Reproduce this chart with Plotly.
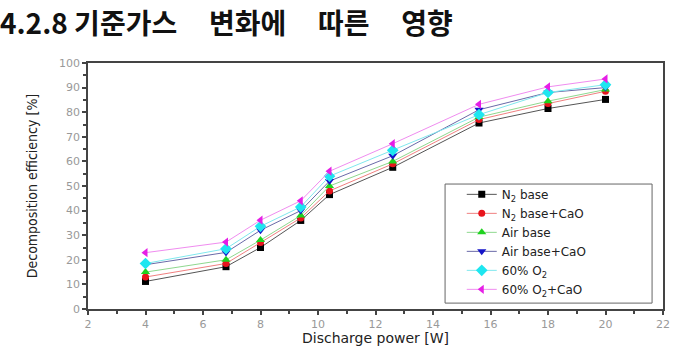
import plotly.graph_objects as go

power = [4, 6.8, 8, 9.4, 10.4, 12.6, 15.6, 18, 20]
n2_base = [11.2, 17.2, 25, 36, 46.5, 57.6, 75.6, 81.5, 85.2]
n2_base_cao = [13, 18.5, 27, 37, 48, 59, 77, 83.5, 88.5]
air_base = [15, 20, 28, 38, 50, 60, 78, 84.5, 89.2]
air_base_cao = [18, 23, 32, 40, 52, 62.3, 81, 88, 90]
o2_60 = [18.5, 24.5, 33.6, 41.5, 54, 64.5, 79, 88, 91.2]
o2_60_cao = [22.9, 27.2, 36.1, 44, 56, 67.2, 83.2, 90.3, 93.5]

series = [
    ("N<sub>2</sub> base", n2_base, "#000000", "#555555", "square", 7),
    ("N<sub>2</sub> base+CaO", n2_base_cao, "#e8141c", "#f08080", "circle", 7),
    ("Air base", air_base, "#1fd21f", "#8fd88f", "triangle-up", 8),
    ("Air base+CaO", air_base_cao, "#1414c8", "#6a6aa8", "triangle-down", 8),
    ("60% O<sub>2</sub>", o2_60, "#1ee6f0", "#80e8ee", "diamond", 9),
    ("60% O<sub>2</sub>+CaO", o2_60_cao, "#e61ee6", "#f08cf0", "triangle-left", 8),
]

fig = go.Figure()
for name, ys, mc, lc, sym, sz in series:
    fig.add_trace(go.Scatter(
        x=power, y=ys, name=name, mode="lines+markers",
        line=dict(color=lc, width=1),
        marker=dict(symbol=sym, size=sz, color=mc, line=dict(width=0)),
    ))

tick_font = dict(family="DejaVu Sans", size=11, color="#999999")
axis_common = dict(
    showgrid=False, zeroline=False, showline=True, linecolor="#444444", linewidth=1.5,
    mirror=True, ticks="outside", ticklen=4, tickwidth=1.5, tickcolor="#444444",
    tickfont=tick_font, automargin=False,
)

fig.update_xaxes(
    range=[2, 22], dtick=2, tick0=2,
    minor=dict(ticks="outside", ticklen=3, dtick=1, tickcolor="#444444", tickwidth=1.5),
    **axis_common,
)
fig.update_yaxes(
    range=[0, 100], dtick=10, tick0=0,
    minor=dict(ticks="outside", ticklen=3, dtick=5, tickcolor="#444444", tickwidth=1.5),
    title=dict(text="Decomposition efficiency [%]",
               font=dict(family="Liberation Sans Narrow, DejaVu Sans Condensed, Arial", size=14, color="#222222"),
               standoff=18),
    **axis_common,
)

sp = "&nbsp;" * 5
title_text = "<b>4.2.8 기준가스" + sp + "변화에" + sp + "따른" + sp + "영향</b>"

fig.update_layout(
    width=680, height=348,
    margin=dict(l=88, r=17, t=63, b=39),
    paper_bgcolor="white", plot_bgcolor="white",
    title=dict(text=title_text, x=0.0, xanchor="left", xref="container",
               y=0.93, yref="container", yanchor="middle",
               font=dict(family="Noto Sans CJK KR", size=28, color="#111111")),
    legend=dict(x=0.65, y=0.525, xanchor="left", yanchor="top",
                bgcolor="rgba(0,0,0,0)", borderwidth=0,
                font=dict(family="DejaVu Sans", size=12, color="#222222"),
                tracegroupgap=0),
    shapes=[dict(type="rect", xref="paper", yref="paper",
                 x0=0.621, x1=0.981, y0=0.024, y1=0.508,
                 line=dict(color="#666666", width=1), fillcolor="white", layer="above")],
    annotations=[dict(text="Discharge power [W]", xref="paper", yref="paper",
                      x=0.5, y=-0.157, xanchor="center", yanchor="bottom", showarrow=False,
                      font=dict(family="DejaVu Sans", size=14, color="#222222"))],
    showlegend=True,
)

fig.write_html("out.html")
